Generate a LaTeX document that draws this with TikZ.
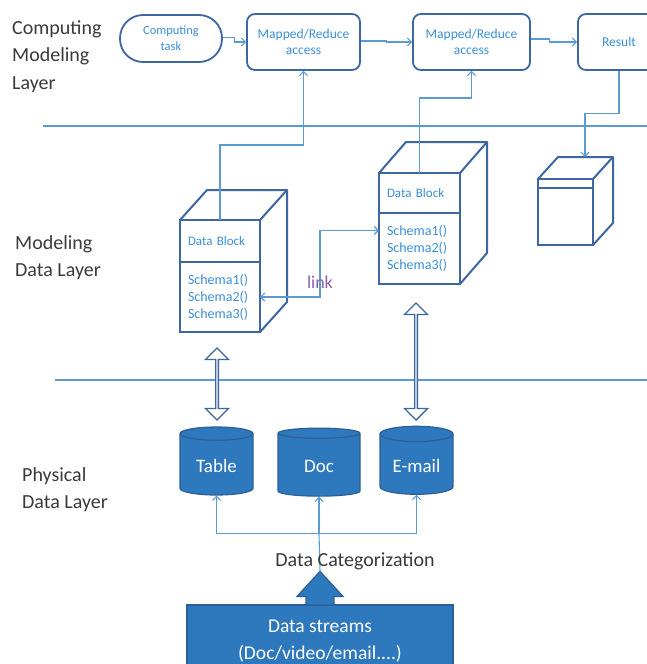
\documentclass[tikz,border=0pt]{standalone}
\usepackage{fontspec}
\setmainfont{Carlito}
\usetikzlibrary{shapes.geometric, shapes.arrows, arrows.meta, positioning, calc}
\definecolor{EdgeBlue}{HTML}{3C67A3}
\definecolor{LineBlue}{HTML}{5B9BD5}
\definecolor{TextBlue}{HTML}{3A8FD9}
\definecolor{DrumBlue}{HTML}{2E78BD}
\definecolor{DrumEdge}{HTML}{2D5F96}
\definecolor{LinkPurple}{HTML}{8A5FA8}
\definecolor{LabelGray}{HTML}{3A3A3A}
\tikzset{
  layerlabel/.style={font=\fontsize{20}{27.5}\selectfont, text=LabelGray,
                     align=left, anchor=north west, inner sep=0pt},
  taskbox/.style={draw=EdgeBlue, line width=1.8pt, rounded corners=8pt, fill=white,
                  text=TextBlue, font=\fontsize{13.5}{16}\selectfont, align=center},
  blockpart/.style={draw=EdgeBlue, line width=2pt, fill=white, outer sep=0pt,
                    text=TextBlue, font=\fontsize{13}{17}\selectfont, align=left,
                    inner xsep=8pt, inner ysep=0pt},
  cubeedge/.style={draw=EdgeBlue, line width=2pt, line join=round},
  flow/.style={draw=LineBlue, line width=1.1pt, -{Straight Barb[length=4pt,width=8pt]}},
  sepline/.style={draw=LineBlue, line width=1.4pt},
  drum/.style={cylinder, shape border rotate=90, aspect=0.28, draw=DrumEdge,
               line width=1.2pt, fill=DrumBlue, text=white, font=\fontsize{19}{22}\selectfont},
  dblarrow/.style={double arrow, draw=EdgeBlue, line width=1.4pt, fill=white,
                   rotate=90, minimum width=23pt, double arrow head extend=5.5pt, inner sep=0pt}
}
\begin{document}
\begin{tikzpicture}[x=1pt, y=-1pt]
    \useasboundingbox (0,0) rectangle (647,664);

    % Layer names
    \node[layerlabel] (lcomp) at (12,20) {Computing\\Modeling\\Layer};
    \node[layerlabel] (lmodel) at (15,235) {Modeling\\Data Layer};
    \node[layerlabel] (lphys) at (22,467) {Physical\\Data Layer};

    % Layer borders
    \draw[sepline] (43,126) -- (647,126);
    \draw[sepline] (55,380) -- (647,380);

    % Computing modeling layer
    \node[taskbox, rounded corners=23pt, minimum width=102pt, minimum height=47pt,
          font=\fontsize{12.5}{16}\selectfont]
        (task) at (171,38.5) {Computing\\task};
    \node[taskbox, minimum width=113pt, minimum height=56pt]
        (mr1) at (303.5,42) {Mapped/Reduce\\access};
    \node[taskbox, minimum width=117pt, minimum height=56pt]
        (mr2) at (471.5,42) {Mapped/Reduce\\access};
    \node[taskbox, minimum width=82pt, minimum height=56pt]
        (res) at (619,42) {Result};
    \draw[flow] ([yshift=1pt]task.east) -- ++(12,0) |- (mr1.west);
    \draw[flow] ([yshift=1pt]mr1.east) -- ++(26,0) |- (mr2.west);
    \draw[flow] ([yshift=3pt]mr2.east) -- ++(19,0) |- (res.west);

    % Data blocks
    \node[blockpart, text width=64pt, minimum height=42pt] (lbhead) at (220,241) {Data Block};
    \node[blockpart, text width=64pt, minimum height=70pt, below=0pt of lbhead,
          font=\fontsize{14}{17}\selectfont]
        (lbbody) {Schema1()\\Schema2()\\Schema3()};
    \draw[cubeedge] (lbhead.north west) -- ++(27,-30) -- ++(80,0) -- ++(0,112) -- (lbbody.south east);
    \draw[cubeedge] (lbhead.north east) -- ++(27,-30);

    \node[blockpart, text width=65pt, minimum height=40pt] (rbhead) at (419.5,193) {Data Block};
    \node[blockpart, text width=65pt, minimum height=71pt, below=0pt of rbhead,
          font=\fontsize{14}{17}\selectfont]
        (rbbody) {Schema1()\\Schema2()\\Schema3()};
    \draw[cubeedge] (rbhead.north west) -- ++(27,-31) -- ++(81,0) -- ++(0,111) -- (rbbody.south east);
    \draw[cubeedge] (rbhead.north east) -- ++(27,-31);

    \node[blockpart, minimum width=55pt, minimum height=66pt] (cube) at (565.5,212) {};
    \draw[cubeedge] ([yshift=-9pt]cube.north west) -- ([yshift=-9pt]cube.north east);
    \draw[cubeedge] (cube.north west) -- ++(20,-22) -- ++(55,0) -- ++(0,66) -- (cube.south east);
    \draw[cubeedge] (cube.north east) -- ++(20,-22);
    \coordinate (cubetop) at ($(cube.north)+(19.5,-22)$);

    % Links between layers
    \draw[flow] (lbhead.north) -- ++(0,-75) -| (mr1.south);
    \draw[flow] (rbhead.north) -- ++(0,-75) -| (mr2.south);
    \draw[flow] (res.south) -- ++(0,43) -| (cubetop);
    \draw[flow, {Straight Barb[length=4pt,width=8pt]}-{Straight Barb[length=4pt,width=8pt]}]
        (lbbody.east) -- ++(60,0)
        |- node[pos=0.11, text=LinkPurple, font=\fontsize{18}{20}\selectfont] (linktxt) {link}
        ([yshift=18pt]rbbody.west);

    % Physical data layer
    \node[drum, minimum width=73pt, minimum height=68pt] (table) at (216.5,466) {Table};
    \node[drum, minimum width=82pt, minimum height=68pt] (doc) at (319,466) {Doc};
    \node[drum, minimum width=73pt, minimum height=68pt] (email) at (416.5,466) {E-mail};

    \node[dblarrow, minimum height=72pt] (tarrow) at (217,384) {};
    \node[dblarrow, minimum height=117pt] (earrow) at (416,361.5) {};

    % Data streams
    \node[draw=DrumEdge, line width=1.2pt, fill=DrumBlue, text=white, minimum width=266pt,
          minimum height=72pt, align=center, font=\fontsize{19.5}{27}\selectfont]
        (ds) at (320,641) {Data streams\\(Doc/video/email....)};
    \coordinate (dstip) at ($(ds.north)+(0,-33)$);
    \filldraw[fill=DrumBlue, draw=DrumEdge, line width=1.2pt]
        ($(ds.north)+(-14,0.6)$) -- ++(0,-8.6) -- ++(-9,0) -- (dstip)
        -- ($(ds.north)+(23,-8)$) -- ++(-9,0) -- ++(0,8.6) -- cycle;
    \coordinate (split) at ($(doc.south)+(0,37)$);
    \draw[draw=LineBlue, line width=1.1pt] (dstip) -- (split);
    \draw[flow] (split) -- (doc.south);
    \draw[flow] (split) -| (table.south);
    \draw[flow] (split) -| (email.south);
    \node[text=LabelGray, font=\fontsize{20}{22}\selectfont] (cat) at (355,561) {Data Categorization};
\end{tikzpicture}
\end{document}
